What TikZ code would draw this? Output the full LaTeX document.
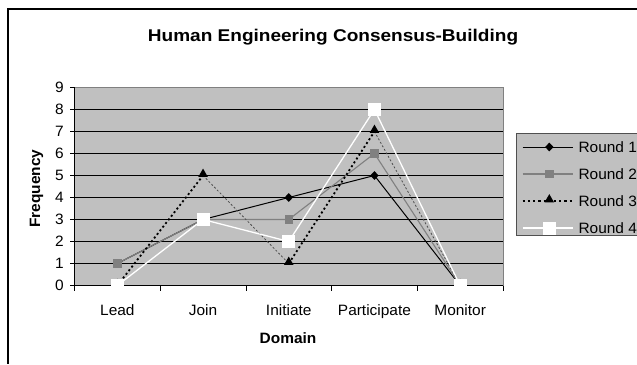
\documentclass[tikz,border=0pt]{standalone}
\usepackage{fontspec}
\setmainfont[FakeStretch=1.03]{Liberation Sans}
\newfontfamily\titlefont[FakeStretch=1.12]{Liberation Sans}
\usetikzlibrary{shapes.geometric}
\definecolor{plotgray}{HTML}{C0C0C0}
\definecolor{seriesgray}{HTML}{808080}
\definecolor{legborder}{HTML}{505050}
\tikzset{
  lbl/.style={inner sep=0pt, font=\fontsize{15}{17}\selectfont},
  boldlbl/.style={inner sep=0pt, font=\fontsize{15}{17}\selectfont\bfseries},
  mkdiamond/.style={diamond, fill=black, draw=none, inner sep=0pt, minimum width=8.5pt, minimum height=9pt},
  mkgsquare/.style={rectangle, fill=seriesgray, draw=none, inner sep=0pt, minimum size=8.5pt},
  mktri/.style={regular polygon, regular polygon sides=3, fill=black, draw=none, inner sep=0pt, minimum size=11pt, yshift=1.4pt},
  mkwsquare/.style={rectangle, fill=white, draw=none, inner sep=0pt, minimum size=13pt},
  lineA/.style={black, line width=1pt},
  lineB/.style={seriesgray, line width=1.1pt},
  lineCthick/.style={black, line width=1.8pt, dash pattern=on 2pt off 2.6pt},
  lineCthin/.style={black!70, line width=0.8pt, dash pattern=on 2pt off 2pt},
  lineD/.style={white, line width=1.3pt},
  grid/.style={black, line width=0.9pt},
  tick/.style={black, line width=0.8pt}
}
\begin{document}
\begin{tikzpicture}[x=1pt,y=-1pt]
\useasboundingbox (0,0) rectangle (637,364);
\fill[white] (0,0) rectangle (637,364);
% outer chart frame (runs past the right and bottom edges)
\fill[black] (6.5,7.5) rectangle (637,9.5);
\fill[black] (6.5,7.5) rectangle (8.5,364);
% title
\node[inner sep=0pt, anchor=base, font=\titlefont\fontsize{17}{19}\selectfont\bfseries] (title) at (333,41.5) {Human Engineering Consensus-Building};

% plot area
\begin{scope}[shift={(74.5,285.5)}, x=85.7pt, y=22pt]
  \fill[plotgray] (0,0) rectangle (5,9);
  \draw[seriesgray, line width=1pt] (0,9) -- (5,9) -- (5,0);
  \foreach \v in {1,...,8} { \draw[grid] (0,\v) -- (5,\v); }
  \draw[black, line width=1pt] (0,0) -- (0,9);
  \draw[black, line width=1pt] (0,0) -- (5,0);
  % y ticks and labels
  \foreach \v in {0,...,9} {
    \draw[tick] (0,\v) -- ++(-5pt,0);
    \node[lbl, anchor=east] (ylab\v) at ([xshift=-10.5pt]0,\v) {\v};
  }
  % x ticks
  \foreach \k in {0,...,5} { \draw[tick] (\k,0) -- ++(0,-5.3pt); }
  % category labels
  \foreach \n/\t [count=\i] in {lead/Lead,join/Join,initiate/Initiate,participate/Participate,monitor/Monitor} {
    \node[lbl, anchor=base] (cat-\n) at ([yshift=-30.2pt]\i-0.5,0) {\t};
  }
  % data coordinates
  \foreach \a/\b/\c/\d [count=\i] in {1/1/0/0, 3/3/5/3, 4/3/1/2, 5/6/7/8, 0/0/0/0} {
    \coordinate (p1-\i) at (\i-0.5,\a);
    \coordinate (p2-\i) at (\i-0.5,\b);
    \coordinate (p3-\i) at (\i-0.5,\c);
    \coordinate (p4-\i) at (\i-0.5,\d);
  }
  % Round 1
  \draw[lineA] (p1-1) -- (p1-2) -- (p1-3) -- (p1-4) -- (p1-5);
  \foreach \i in {1,...,5} { \node[mkdiamond] (m1-\i) at (p1-\i) {}; }
  % Round 2
  \draw[lineB] (p2-1) -- (p2-2) -- (p2-3) -- (p2-4) -- (p2-5);
  \foreach \i in {1,...,5} { \node[mkgsquare] (m2-\i) at (p2-\i) {}; }
  % Round 3
  \draw[lineCthick] (p3-1) -- (p3-2);
  \draw[lineCthin] (p3-2) -- (p3-3);
  \draw[lineCthick] (p3-3) -- (p3-4);
  \draw[lineCthin] (p3-4) -- (p3-5);
  \foreach \i in {1,...,5} { \node[mktri] (m3-\i) at (p3-\i) {}; }
  % Round 4
  \draw[lineD] (p4-1) -- (p4-2) -- (p4-3) -- (p4-4) -- (p4-5);
  \foreach \i in {1,...,5} { \node[mkwsquare] (m4-\i) at (p4-\i) {}; }
\end{scope}

% axis titles
\node[boldlbl, anchor=base] (xtitle) at (288,343.3) {Domain};
\node[boldlbl, rotate=90] (ytitle) at (36.5,188.5) {Frequency};

% legend (runs past the right edge)
\fill[legborder] (516,132.5) rectangle (637,236);
\fill[plotgray] (517,133.5) rectangle (637,235);
\foreach \r/\yy in {1/147, 2/174, 3/201, 4/228} {
  \coordinate (la\r) at (522.7,\yy);
  \coordinate (lb\r) at (573.3,\yy);
  \coordinate (lm\r) at (549.3,\yy);
  \node[lbl, anchor=west] (lt\r) at (578.3,\yy) {Round \r};
}
\draw[lineA] (la1) -- (lb1);
\node[mkdiamond] (lk1) at (lm1) {};
\draw[lineB] (la2) -- (lb2);
\node[mkgsquare] (lk2) at (lm2) {};
\draw[black, line width=1.6pt, dash pattern=on 2.2pt off 3pt] (la3) -- (lb3);
\node[mktri] (lk3) at (lm3) {};
\draw[lineD] (la4) -- (lb4);
\node[mkwsquare] (lk4) at (lm4) {};
\end{tikzpicture}
\end{document}
